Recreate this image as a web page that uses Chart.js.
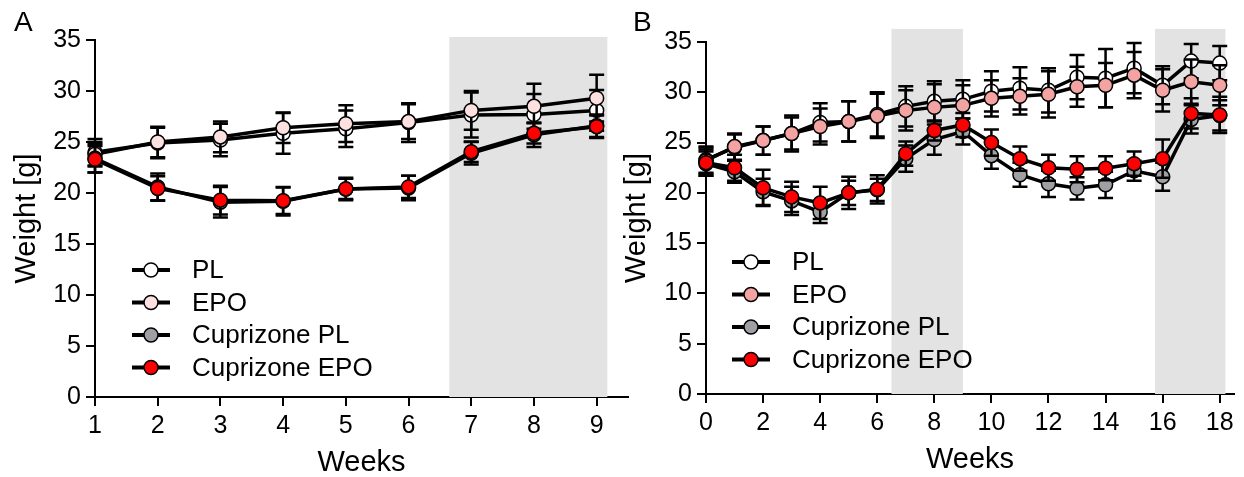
<!DOCTYPE html>
<html>
<head>
<meta charset="utf-8">
<script src="https://cdn.jsdelivr.net/npm/chart.js@4.4.1/dist/chart.umd.min.js"></script>
<style>
  html, body { margin: 0; padding: 0; background: #fff; }
  #wrap { position: relative; width: 1244px; height: 477px; overflow: hidden; }
  canvas { position: absolute; top: 0; }
  #chart-a { left: 0; }
  #chart-b { left: 620px; }
</style>
</head>
<body>
<div id="wrap">
  <canvas id="chart-a" width="640" height="477"></canvas>
  <canvas id="chart-b" width="624" height="477"></canvas>
</div>
<script>
'use strict';

// *********** DATA ****************

let seriesNames = ['PL', 'EPO', 'Cuprizone PL', 'Cuprizone EPO'];

// panel A - weeks 1..9
let weeksA = [1, 2, 3, 4, 5, 6, 7, 8, 9];
let plA = [24.0, 24.9, 25.2, 25.85, 26.3, 26.9, 27.65, 27.7, 28.1];
let plErrA = [1.3, 1.5, 1.6, 2.0, 1.8, 1.9, 2.2, 2.0, 2.0];
let epoA = [23.8, 25.0, 25.5, 26.4, 26.8, 27.0, 28.1, 28.5, 29.3];
let epoErrA = [1.2, 1.5, 1.5, 1.5, 1.8, 1.7, 1.9, 2.2, 2.3];
let cupPlA = [23.4, 20.6, 19.1, 19.2, 20.4, 20.5, 23.9, 25.7, 26.6];
let cupPlErrA = [1.4, 1.3, 1.5, 1.4, 1.1, 1.2, 1.1, 1.2, 1.1];
let cupEpoA = [23.3, 20.45, 19.3, 19.25, 20.4, 20.6, 24.05, 25.85, 26.5];
let cupEpoErrA = [1.3, 1.2, 1.4, 1.3, 1.0, 1.1, 1.0, 1.0, 1.1];
let shadeA = [[6.65, 9.17]];
let xTicksA = [1, 2, 3, 4, 5, 6, 7, 8, 9];

// panel B - weeks 0..18
let weeksB = [0, 1, 2, 3, 4, 5, 6, 7, 8, 9, 10, 11, 12, 13, 14, 15, 16, 17, 18];
let plB = [23.3, 24.5, 25.2, 25.9, 27.0, 27.1, 27.8, 28.6, 29.1, 29.3, 30.1, 30.4, 30.2, 31.5, 31.4, 32.4, 30.7, 33.1, 32.9];
let plErrB = [1.3, 1.3, 1.4, 1.6, 1.9, 2.0, 2.2, 2.0, 2.0, 1.9, 2.0, 2.1, 2.2, 2.2, 2.9, 2.5, 1.9, 1.7, 1.7];
let epoB = [23.2, 24.6, 25.2, 25.9, 26.6, 27.1, 27.65, 28.2, 28.5, 28.7, 29.4, 29.6, 29.8, 30.55, 30.7, 31.7, 30.2, 31.05, 30.7];
let epoErrB = [1.3, 1.3, 1.4, 1.8, 1.8, 2.0, 2.2, 2.0, 2.3, 2.0, 1.8, 1.8, 2.3, 2.0, 2.2, 2.3, 2.1, 2.2, 2.0];
let cupPlB = [22.9, 22.1, 20.1, 19.2, 18.1, 20.0, 20.3, 23.4, 25.3, 26.1, 23.7, 21.8, 20.9, 20.45, 20.8, 22.2, 21.6, 27.3, 27.7];
let cupPlErrB = [1.2, 1.1, 1.3, 1.4, 1.1, 1.2, 1.1, 1.3, 1.5, 1.3, 1.3, 1.2, 1.3, 1.1, 1.3, 1.0, 1.4, 1.4, 1.5];
let cupEpoB = [23.0, 22.5, 20.5, 19.6, 19.0, 20.0, 20.35, 23.9, 26.2, 26.75, 25.0, 23.4, 22.5, 22.35, 22.45, 22.9, 23.4, 27.9, 27.75];
let cupEpoErrB = [1.3, 1.3, 1.8, 1.5, 1.6, 1.6, 1.4, 1.2, 1.0, 1.2, 1.3, 1.2, 1.3, 1.3, 1.2, 1.2, 1.9, 1.5, 1.8];
let shadeB = [[6.5, 9.0], [15.73, 18.2]];
let xTicksB = [0, 2, 4, 6, 8, 10, 12, 14, 16, 18];

let yTicks = [0, 5, 10, 15, 20, 25, 30, 35];

// ********** HELPERS *******************

const FONT = '"Liberation Sans", Arial, sans-serif';

function makeSet(label, xs, ys, errs, fill, order){
  let pts = [];
  for(let i=0;i<xs.length;i++){
    pts.push({x: xs[i], y: ys[i]});
  }
  return {
    label: label,
    data: pts,
    errors: errs,
    order: order,
    borderColor: '#000',
    borderWidth: 3.5,
    pointRadius: 7,
    pointBorderWidth: 1.5,
    pointBorderColor: '#000',
    pointBackgroundColor: fill,
    tension: 0
  };
}

// error bars drawn just before each dataset so markers sit on top
let errorBarPlugin = {
  id: 'errorBars',
  beforeDatasetDraw(chart, args){
    let ds = chart.data.datasets[args.index];
    let yScale = chart.scales.y;
    let ctx = chart.ctx;
    ctx.save();
    ctx.strokeStyle = '#000';
    ctx.lineWidth = 2.5;
    for(let i=0;i<args.meta.data.length;i++){
      let pt = args.meta.data[i];
      let v = ds.data[i].y;
      let e = ds.errors[i];
      let top = yScale.getPixelForValue(v + e);
      let bot = yScale.getPixelForValue(v - e);
      ctx.beginPath();
      ctx.moveTo(pt.x, top);
      ctx.lineTo(pt.x, bot);
      ctx.moveTo(pt.x - 7.5, top);
      ctx.lineTo(pt.x + 7.5, top);
      ctx.moveTo(pt.x - 7.5, bot);
      ctx.lineTo(pt.x + 7.5, bot);
      ctx.stroke();
    }
    ctx.restore();
  }
};

// grey treatment windows
let shadePlugin = {
  id: 'shade',
  beforeDatasetsDraw(chart, args, opts){
    let xs = chart.scales.x;
    let ys = chart.scales.y;
    let ctx = chart.ctx;
    ctx.save();
    ctx.fillStyle = '#e3e3e3';
    for(let i=0;i<opts.ranges.length;i++){
      let x0 = xs.getPixelForValue(opts.ranges[i][0]);
      let x1 = xs.getPixelForValue(opts.ranges[i][1]);
      let y0 = ys.getPixelForValue(opts.top);
      let y1 = ys.getPixelForValue(0);
      ctx.fillRect(x0, y0, x1 - x0, y1 - y0);
    }
    ctx.restore();
  }
};

// legend with line segment + marker, and the panel letter
let legendPlugin = {
  id: 'boxLegend',
  afterDraw(chart, args, opts){
    let ctx = chart.ctx;
    ctx.save();
    let sets = chart.data.datasets;
    for(let i=0;i<sets.length;i++){
      let y = opts.top + i * opts.rowGap;
      ctx.strokeStyle = '#000';
      ctx.lineWidth = 4;
      ctx.beginPath();
      ctx.moveTo(opts.left, y);
      ctx.lineTo(opts.left + 38, y);
      ctx.stroke();
      ctx.beginPath();
      ctx.arc(opts.left + 19, y, 7, 0, Math.PI * 2);
      ctx.fillStyle = sets[i].pointBackgroundColor;
      ctx.fill();
      ctx.lineWidth = 1.5;
      ctx.stroke();
      ctx.fillStyle = '#000';
      ctx.font = '26px ' + FONT;
      ctx.textBaseline = 'middle';
      ctx.textAlign = 'left';
      ctx.fillText(sets[i].label, opts.left + 60, y + 1);
    }
    ctx.font = '28px ' + FONT;
    ctx.textBaseline = 'top';
    ctx.fillText(opts.letter, opts.letterX, 9);
    ctx.restore();
  }
};

function buildChart(canvasId, cfg){
  let ctx = document.getElementById(canvasId).getContext('2d');
  return new Chart(ctx, {
    type: 'line',
    data: {
      datasets: [
        makeSet(seriesNames[0], cfg.weeks, cfg.pl, cfg.plErr, '#ffffff', 4),
        makeSet(seriesNames[1], cfg.weeks, cfg.epo, cfg.epoErr, cfg.epoColor, 3),
        makeSet(seriesNames[2], cfg.weeks, cfg.cupPl, cfg.cupPlErr, '#a0a0a4', 2),
        makeSet(seriesNames[3], cfg.weeks, cfg.cupEpo, cfg.cupEpoErr, '#ff0000', 1)
      ]
    },
    options: {
      responsive: false,
      animation: false,
      clip: false,
      layout: { padding: { left: 0, top: cfg.padTop, right: cfg.padRight, bottom: 0 } },
      plugins: {
        legend: { display: false },
        tooltip: { enabled: false },
        shade: { ranges: cfg.shade, top: cfg.shadeTop },
        boxLegend: cfg.legend
      },
      scales: {
        x: {
          type: 'linear',
          min: cfg.xMin,
          max: cfg.xMax,
          afterBuildTicks(scale){ scale.ticks = cfg.xTicks.map(v => ({value: v})); },
          afterFit(scale){ scale.height = cfg.xHeight; },
          grid: { drawOnChartArea: false, drawTicks: true, tickLength: 9, color: '#000', lineWidth: 2 },
          border: { display: true, color: '#000', width: 2 },
          ticks: { color: '#000', font: { family: FONT, size: 25 }, padding: 5, maxRotation: 0, autoSkip: false },
          title: { display: true, text: 'Weeks', color: '#000', font: { family: FONT, size: 29 }, padding: { top: 0, bottom: cfg.xTitlePad } }
        },
        y: {
          min: 0,
          max: 35,
          afterBuildTicks(scale){ scale.ticks = yTicks.map(v => ({value: v})); },
          afterFit(scale){ scale.width = cfg.yWidth; },
          grid: { drawOnChartArea: false, drawTicks: true, tickLength: 9, color: '#000', lineWidth: 2 },
          border: { display: true, color: '#000', width: 2 },
          ticks: { color: '#000', font: { family: FONT, size: 25 }, padding: 5 },
          title: { display: true, text: 'Weight [g]', color: '#000', font: { family: FONT, size: 29 }, padding: { top: cfg.yTitlePad, bottom: 0 } }
        }
      }
    },
    plugins: [shadePlugin, errorBarPlugin, legendPlugin]
  });
}

// ********** RENDER *******************

buildChart('chart-a', {
  weeks: weeksA, pl: plA, plErr: plErrA, epo: epoA, epoErr: epoErrA,
  cupPl: cupPlA, cupPlErr: cupPlErrA, cupEpo: cupEpoA, cupEpoErr: cupEpoErrA,
  epoColor: '#fde0e0', shade: shadeA, shadeTop: 35.3,
  xMin: 1, xMax: 9.5, xTicks: xTicksA,
  padTop: 40, padRight: 12, xHeight: 80, yWidth: 95, xTitlePad: -3, yTitlePad: 10,
  legend: { left: 132, top: 270, rowGap: 32.5, letter: 'A', letterX: 14 }
});

buildChart('chart-b', {
  weeks: weeksB, pl: plB, plErr: plErrB, epo: epoB, epoErr: epoErrB,
  cupPl: cupPlB, cupPlErr: cupPlErrB, cupEpo: cupEpoB, cupEpoErr: cupEpoErrB,
  epoColor: '#f4a3a3', shade: shadeB, shadeTop: 36.3,
  xMin: 0, xMax: 18.5, xTicks: xTicksB,
  padTop: 42, padRight: 10, xHeight: 83, yWidth: 86, xTitlePad: 0, yTitlePad: 0,
  legend: { left: 112, top: 262, rowGap: 32.5, letter: 'B', letterX: 13 }
});
</script>
</body>
</html>
